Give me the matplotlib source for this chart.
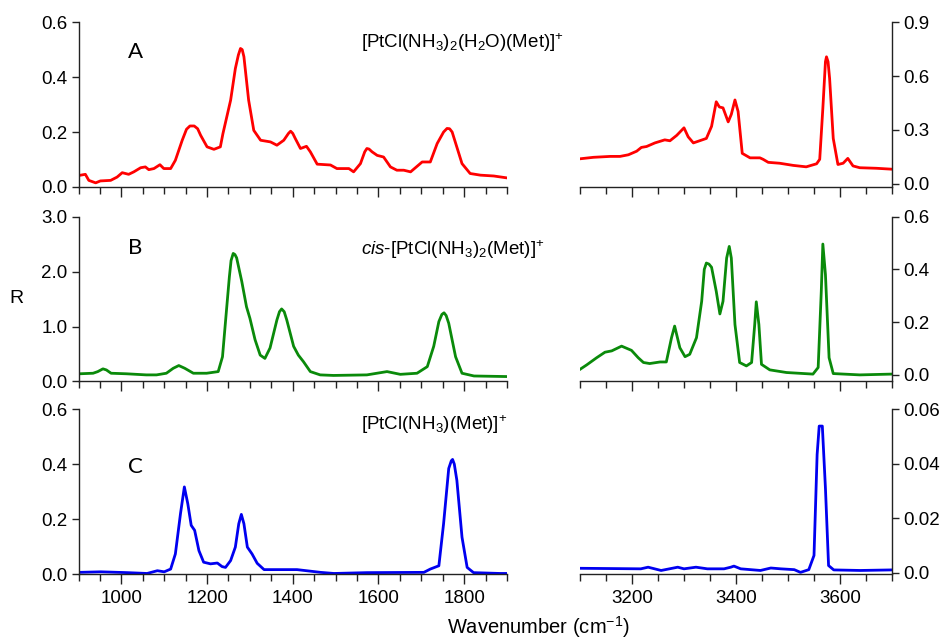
import matplotlib
matplotlib.use("Agg")
import matplotlib.pyplot as plt
from matplotlib.ticker import MultipleLocator, FixedLocator, FixedFormatter

plt.rcParams['font.family'] = ['Liberation Sans', 'DejaVu Sans']
plt.rcParams['mathtext.fontset'] = 'custom'
plt.rcParams['mathtext.rm'] = 'Liberation Sans'
plt.rcParams['mathtext.it'] = 'Liberation Sans:italic'
plt.rcParams['mathtext.bf'] = 'Liberation Sans:bold'

# ---- spectrum A: [PtCl(NH3)2(H2O)(Met)]+ ----
wn_a_low = [905, 916, 924, 940, 951, 975, 990, 1002, 1017, 1029, 1045, 1056, 1064, 1076, 1090,
            1099, 1115, 1126, 1142, 1152, 1160, 1170, 1178, 1185, 1200, 1216, 1231, 1237, 1255,
            1266, 1273, 1278, 1282, 1286, 1297, 1309, 1325, 1348, 1363, 1379, 1390, 1395, 1400,
            1406, 1418, 1432, 1441, 1457, 1488, 1503, 1531, 1542, 1558, 1568, 1573, 1578, 1585,
            1597, 1612, 1628, 1643, 1659, 1675, 1702, 1721, 1737, 1752, 1760, 1766, 1772, 1795,
            1814, 1838, 1869, 1900]
r_a_low = [0.043, 0.046, 0.024, 0.015, 0.022, 0.024, 0.036, 0.052, 0.046, 0.055, 0.070, 0.073,
           0.063, 0.067, 0.081, 0.067, 0.067, 0.097, 0.170, 0.210, 0.222, 0.222, 0.212, 0.188,
           0.146, 0.137, 0.146, 0.194, 0.316, 0.431, 0.480, 0.504, 0.500, 0.474, 0.316, 0.206,
           0.170, 0.164, 0.152, 0.170, 0.195, 0.203, 0.195, 0.176, 0.140, 0.148, 0.128, 0.083,
           0.080, 0.067, 0.067, 0.055, 0.085, 0.128, 0.140, 0.138, 0.128, 0.115, 0.109, 0.073,
           0.061, 0.061, 0.055, 0.091, 0.091, 0.158, 0.200, 0.213, 0.212, 0.200, 0.085, 0.049,
           0.043, 0.040, 0.033]
wn_a_high = [3101, 3126, 3158, 3177, 3193, 3209, 3218, 3228, 3244, 3263, 3273, 3286, 3300, 3308,
             3318, 3330, 3343, 3353, 3362, 3368, 3375, 3385, 3391, 3398, 3404, 3412, 3427, 3446,
             3452, 3462, 3484, 3510, 3535, 3555, 3561, 3567, 3572, 3574, 3577, 3580, 3587, 3596,
             3606, 3615, 3625, 3638, 3670, 3699]
r_a_high = [0.140, 0.148, 0.153, 0.153, 0.162, 0.182, 0.203, 0.208, 0.228, 0.245, 0.240, 0.270,
            0.312, 0.262, 0.228, 0.240, 0.253, 0.320, 0.457, 0.428, 0.423, 0.345, 0.387, 0.467,
            0.403, 0.170, 0.145, 0.145, 0.137, 0.120, 0.115, 0.103, 0.095, 0.112, 0.137, 0.420,
            0.680, 0.707, 0.680, 0.587, 0.253, 0.108, 0.115, 0.142, 0.100, 0.090, 0.087, 0.082]

# ---- spectrum B: cis-[PtCl(NH3)2(Met)]+ ----
wn_b_low = [902, 934, 945, 957, 965, 976, 1012, 1058, 1082, 1105, 1121, 1134, 1148, 1168, 1199,
            1226, 1236, 1246, 1252, 1256, 1261, 1265, 1269, 1281, 1292, 1300, 1312, 1324, 1335,
            1347, 1363, 1369, 1374, 1380, 1386, 1402, 1413, 1425, 1441, 1464, 1495, 1573, 1620,
            1651, 1690, 1714, 1729, 1741, 1748, 1753, 1758, 1764, 1780, 1795, 1823, 1897]
r_b_low = [0.14, 0.15, 0.18, 0.23, 0.21, 0.15, 0.14, 0.12, 0.12, 0.15, 0.24, 0.29, 0.24, 0.15,
           0.15, 0.18, 0.45, 1.36, 1.90, 2.20, 2.33, 2.31, 2.25, 1.82, 1.36, 1.15, 0.76, 0.48,
           0.42, 0.61, 1.12, 1.27, 1.32, 1.27, 1.12, 0.64, 0.48, 0.36, 0.18, 0.12, 0.11, 0.12,
           0.18, 0.13, 0.15, 0.27, 0.64, 1.09, 1.22, 1.25, 1.20, 1.06, 0.45, 0.15, 0.10, 0.09]
wn_b_high = [3100, 3113, 3132, 3148, 3161, 3180, 3199, 3212, 3222, 3234, 3254, 3266, 3276, 3282,
             3292, 3302, 3311, 3324, 3334, 3339, 3343, 3348, 3353, 3362, 3369, 3375, 3382, 3387,
             3391, 3398, 3407, 3420, 3430, 3436, 3439, 3444, 3449, 3465, 3497, 3548, 3558, 3564,
             3567, 3572, 3579, 3587, 3638, 3699]
r_b_high = [0.021, 0.038, 0.065, 0.086, 0.091, 0.109, 0.093, 0.065, 0.047, 0.043, 0.049, 0.049,
            0.141, 0.185, 0.103, 0.069, 0.078, 0.141, 0.279, 0.400, 0.424, 0.420, 0.408, 0.317,
            0.231, 0.279, 0.443, 0.487, 0.443, 0.191, 0.047, 0.034, 0.047, 0.191, 0.277, 0.191,
            0.040, 0.019, 0.009, 0.003, 0.028, 0.317, 0.496, 0.380, 0.065, 0.005, 0.000, 0.003]

# ---- spectrum C: [PtCl(NH3)(Met)]+ ----
wn_c_low = [902, 952, 1014, 1060, 1084, 1100, 1115, 1126, 1138, 1147, 1155, 1163, 1171, 1181,
            1192, 1208, 1224, 1235, 1243, 1255, 1266, 1274, 1280, 1286, 1294, 1305, 1317, 1333,
            1364, 1410, 1465, 1496, 1573, 1706, 1721, 1741, 1752, 1764, 1770, 1773, 1777, 1783,
            1795, 1807, 1822, 1884, 1898]
r_c_low = [0.006, 0.008, 0.005, 0.002, 0.012, 0.008, 0.018, 0.073, 0.220, 0.317, 0.256, 0.177,
           0.159, 0.085, 0.043, 0.037, 0.040, 0.027, 0.024, 0.049, 0.098, 0.183, 0.217, 0.183,
           0.098, 0.073, 0.039, 0.016, 0.016, 0.016, 0.006, 0.002, 0.005, 0.006, 0.018, 0.030,
           0.183, 0.384, 0.412, 0.417, 0.400, 0.341, 0.134, 0.024, 0.005, 0.002, 0.002]
wn_c_high = [3099, 3217, 3231, 3256, 3288, 3300, 3323, 3345, 3377, 3390, 3396, 3409, 3447, 3467,
             3486, 3512, 3524, 3540, 3550, 3556, 3560, 3566, 3572, 3578, 3588, 3639, 3699]
r_c_high = [0.0017, 0.0015, 0.0021, 0.0009, 0.0021, 0.0015, 0.0021, 0.0015, 0.0015, 0.0021,
            0.0025, 0.0015, 0.0009, 0.0018, 0.0015, 0.0012, 0.0002, 0.0012, 0.0064, 0.0434,
            0.0538, 0.0538, 0.0310, 0.0027, 0.0011, 0.0009, 0.0011]

panel_letters = ['A', 'B', 'C']
panel_titles = [r'[PtCl(NH$_3$)$_2$(H$_2$O)(Met)]$^{\mathrm{+}}$',
                r'$\it{cis}$-[PtCl(NH$_3$)$_2$(Met)]$^{\mathrm{+}}$',
                r'[PtCl(NH$_3$)(Met)]$^{\mathrm{+}}$']
left_ticks = [[0.0, 0.2, 0.4, 0.6], [0.0, 1.0, 2.0, 3.0], [0.0, 0.2, 0.4, 0.6]]
left_labels = [['0.0', '0.2', '0.4', '0.6'], ['0.0', '1.0', '2.0', '3.0'], ['0.0', '0.2', '0.4', '0.6']]
right_ticks = [[0.0, 0.3, 0.6, 0.9], [0.0, 0.2, 0.4, 0.6], [0.0, 0.02, 0.04, 0.06]]
right_labels = [['0.0', '0.3', '0.6', '0.9'], ['0.0', '0.2', '0.4', '0.6'], ['0.0', '0.02', '0.04', '0.06']]
right_ylim = [(-0.017, 0.9), (-0.025, 0.6), (-0.0004, 0.06)]
letter_y = [0.49, 2.42, 0.39]
title_y = [0.526, 2.39, 0.545]

colors = ['#ff0000', '#0a8a0a', '#0000f0']
low_x = [wn_a_low, wn_b_low, wn_c_low]
low_y = [r_a_low, r_b_low, r_c_low]
high_x = [wn_a_high, wn_b_high, wn_c_high]
high_y = [r_a_high, r_b_high, r_c_high]

fig = plt.figure(figsize=(9.53, 6.39), dpi=100)
bottoms = [0.7074, 0.4030, 0.1017]
height = 0.258
spine_col = '#222222'
tick_fs = 13.5

for i in range(3):
    axl = fig.add_axes([0.0824, bottoms[i], 0.4496, height])
    axr = fig.add_axes([0.6086, bottoms[i], 0.3274, height])

    axl.plot(low_x[i], low_y[i], color=colors[i], lw=2.0, solid_joinstyle='round')
    axr.plot(high_x[i], high_y[i], color=colors[i], lw=2.0, solid_joinstyle='round')

    axl.set_xlim(900, 1900)
    axl.set_ylim(left_ticks[i][0], left_ticks[i][-1])
    axr.set_xlim(3100, 3700)
    axr.set_ylim(*right_ylim[i])

    for ax, side in ((axl, 'left'), (axr, 'right')):
        for s in ('top', 'left', 'right', 'bottom'):
            ax.spines[s].set_visible(s in ('bottom', side))
            ax.spines[s].set_color(spine_col)
            ax.spines[s].set_linewidth(1.0)
        ax.xaxis.set_major_locator(MultipleLocator(200))
        ax.xaxis.set_minor_locator(MultipleLocator(50))
        ax.tick_params(axis='x', which='major', direction='out', length=7.5, width=1.0,
                       color=spine_col, labelsize=tick_fs, pad=4)
        ax.tick_params(axis='x', which='minor', direction='out', length=5, width=1.0,
                       color=spine_col)
        if i < 2:
            ax.tick_params(axis='x', labelbottom=False)
        ax.patch.set_alpha(0)

    axl.yaxis.set_major_locator(FixedLocator(left_ticks[i]))
    axl.yaxis.set_major_formatter(FixedFormatter(left_labels[i]))
    axl.tick_params(axis='y', direction='out', length=5, width=1.0, color=spine_col,
                    labelsize=tick_fs, pad=3)

    axr.yaxis.tick_right()
    axr.yaxis.set_major_locator(FixedLocator(right_ticks[i]))
    axr.yaxis.set_major_formatter(FixedFormatter(right_labels[i]))
    axr.tick_params(axis='y', direction='out', length=5, width=1.0, color=spine_col,
                    labelsize=tick_fs, pad=3, left=False, labelleft=False,
                    right=True, labelright=True)

    axl.text(1033, letter_y[i], panel_letters[i], fontsize=16, family=['Lato', 'DejaVu Sans'],
             ha='center', va='center')
    axl.text(1560, title_y[i], panel_titles[i], fontsize=13.5, ha='left', va='center',
             clip_on=False)

fig.text(16 / 953, 1 - 298 / 639, 'R', fontsize=14, ha='center', va='center')
fig.text(538 / 953, 1 - 627 / 639, 'Wavenumber (cm$^{-1}$)', fontsize=14.5,
         ha='center', va='center')

fig.savefig('out.png', dpi=100)
